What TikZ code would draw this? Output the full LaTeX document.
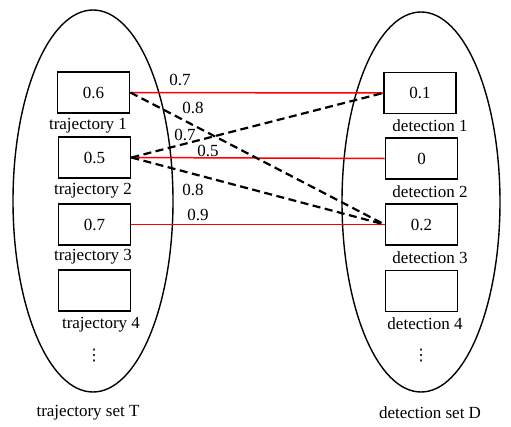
\documentclass[tikz,border=0pt]{standalone}
\usepackage{fontspec}
\setmainfont{Liberation Serif}
\newfontfamily\dotsfont{DejaVu Sans}
\begin{document}
\begin{tikzpicture}[x=1pt,y=-1pt,
  every node/.style={font=\fontsize{17}{19}\selectfont, inner sep=0pt},
  setell/.style={draw=black, line width=1.4pt},
  itembox/.style={draw=black, line width=1.8pt, minimum width=72pt, minimum height=41pt},
  redlink/.style={draw=red, line width=1.5pt},
  dashlink/.style={draw=black, line width=2.2pt, dash pattern=on 8pt off 4.5pt},
  txt/.style={anchor=center},
  vdotsnode/.style={anchor=center, font=\dotsfont\fontsize{16}{16}\selectfont}]
\useasboundingbox (0,0) rectangle (511,426);
\draw[setell] (93,201) ellipse [x radius=80, y radius=191];
\draw[setell] (421,202) ellipse [x radius=79, y radius=190];
% left boxes
\node[itembox] (t1) at (93.5,92.5) {0.6};
\node[itembox] (t2) at (94.5,157.5) {0.5};
\node[itembox] (t3) at (94.5,224.5) {0.7};
\node[itembox] (t4) at (94.5,290.5) {};
% right boxes
\node[itembox] (d1) at (420,93) {0.1};
\node[itembox] (d2) at (421.5,158.5) {0};
\node[itembox] (d3) at (421.5,224.5) {0.2};
\node[itembox] (d4) at (421.5,291) {};
% labels
\node[txt] (lt1) at (88,126) {trajectory 1};
\node[txt] (lt2) at (93,191) {trajectory 2};
\node[txt] (lt3) at (93,257) {trajectory 3};
\node[txt] (lt4) at (101,325) {trajectory 4};
\node[vdotsnode] (ltd) at (94,356) {⋮};
\node[txt] (lts) at (88,413) {trajectory set T};
\node[txt] (ld1) at (430,126) {detection 1};
\node[txt] (ld2) at (430,192) {detection 2};
\node[txt] (ld3) at (430,258) {detection 3};
\node[txt] (ld4) at (425,324) {detection 4};
\node[vdotsnode] (ldd) at (421,356) {⋮};
\node[txt] (lds) at (430,413) {detection set D};
% links
\draw[redlink] (t1.east) -- (d1.west);
\draw[redlink] (t2.east) -- (d2.west);
\draw[redlink] (t3.east) -- (d3.west);
\draw[dashlink] (t1.east) -- (d3.west);
\draw[dashlink] (t2.east) -- (d1.west);
\draw[dashlink] (t2.east) -- (d3.west);
% weights
\node[txt] (w1) at (180,80) {0.7};
\node[txt] (w2) at (193,108) {0.8};
\node[txt] (w3) at (185,135) {0.7};
\node[txt] (w4) at (208,151) {0.5};
\node[txt] (w5) at (193,190) {0.8};
\node[txt] (w6) at (198,215) {0.9};
\end{tikzpicture}
\end{document}
